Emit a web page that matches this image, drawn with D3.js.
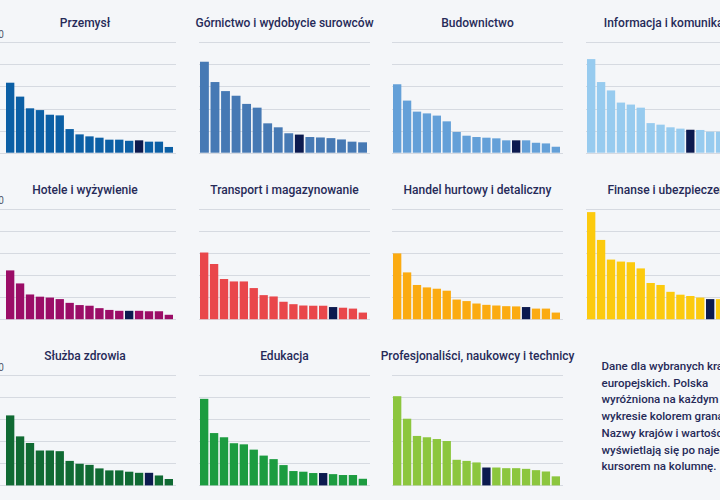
<!DOCTYPE html>
<html>
<head>
<meta charset="utf-8">
<script src="https://d3js.org/d3.v7.min.js"></script>
<style>
  html, body { margin: 0; padding: 0; background: #f4f6f9; overflow: hidden; }
  svg { display: block; }
  .title { font-family: Roboto, sans-serif; font-size: 12px; font-weight: 500; fill: #262a58; text-anchor: middle; }
  .tick-label { font-family: Roboto, sans-serif; font-size: 10px; fill: #555a6e; text-anchor: end; }
  .note { font-family: Roboto, sans-serif; font-size: 11.5px; font-weight: 500; fill: #262a58; }
  .grid line { stroke: #d6dae1; stroke-width: 1px; }
</style>
</head>
<body>
<div id="chart"></div>
<script>
  // sector names (panel titles), in reading order
  var sectors = [
    "Przemysł", "Górnictwo i wydobycie surowców", "Budownictwo", "Informacja i komunikacja",
    "Hotele i wyżywienie", "Transport i magazynowanie", "Handel hurtowy i detaliczny", "Finanse i ubezpieczenia",
    "Służba zdrowia", "Edukacja", "Profesjonaliści, naukowcy i technicy"
  ];

  // bar colour per sector
  var sectorColors = [
    "#0b5fa5", "#4679b4", "#64a0d8", "#97cbef",
    "#9b0d67", "#e9474b", "#fbab12", "#fcca0e",
    "#106a33", "#1c9c40", "#8cc63e"
  ];

  // values per sector (countries sorted descending)
  var przemysl      = [31.7, 25.4, 20.1, 19.3, 17.2, 16.9, 10.7, 8.3, 7.4, 6.8, 5.9, 5.9, 5.4, 5.6, 5.0, 5.0, 2.6];
  var gornictwo     = [41.2, 32.0, 27.9, 25.8, 22.1, 20.4, 13.3, 11.5, 8.8, 8.2, 7.1, 6.9, 6.6, 6.0, 5.0, 4.7];
  var budownictwo   = [31.0, 23.6, 18.6, 17.8, 16.8, 14.2, 9.4, 7.7, 7.1, 6.8, 6.5, 5.6, 5.6, 5.6, 4.5, 4.2, 2.7];
  var informacja    = [42.4, 32.0, 28.2, 22.7, 21.8, 20.4, 13.4, 12.7, 11.5, 10.9, 10.4, 10.3, 9.5, 9.5, 9.0, 8.0, 5.5];
  var hotele        = [22.1, 16.2, 11.2, 10.2, 9.8, 9.1, 7.4, 6.4, 6.1, 5.0, 4.2, 3.8, 3.8, 3.8, 3.6, 3.6, 2.0];
  var transport     = [30.2, 25.0, 18.2, 17.1, 17.1, 14.1, 10.9, 10.3, 7.9, 6.8, 6.2, 6.1, 6.1, 5.5, 5.2, 4.8, 3.0];
  var handel        = [29.8, 21.2, 15.5, 14.4, 13.8, 12.9, 8.9, 8.2, 7.1, 6.5, 6.2, 5.9, 5.8, 5.5, 4.8, 4.8, 3.0];
  var finanse       = [48.5, 35.9, 27.0, 26.1, 25.8, 23.0, 16.4, 15.5, 12.4, 11.1, 10.5, 9.8, 9.1, 9.1, 8.6, 8.2, 5.5];
  var zdrowie       = [31.7, 22.2, 19.2, 15.8, 15.8, 15.5, 11.1, 9.8, 9.3, 7.7, 6.8, 6.8, 6.2, 5.7, 5.7, 4.5, 2.9];
  var edukacja      = [39.2, 23.7, 21.8, 19.1, 18.6, 16.2, 13.5, 11.9, 9.2, 6.5, 6.2, 5.6, 5.6, 5.1, 4.7, 4.7, 3.0];
  var profesjonalisci = [40.4, 30.2, 22.4, 21.8, 21.0, 20.1, 11.6, 11.1, 10.4, 8.1, 8.1, 7.8, 7.8, 7.5, 6.9, 6.3, 4.1];

  var seriesValues = [przemysl, gornictwo, budownictwo, informacja, hotele, transport,
    handel, finanse, zdrowie, edukacja, profesjonalisci];

  // position of Poland in each sorted series
  var polandIndex = [13, 9, 12, 10, 12, 13, 13, 12, 14, 12, 9];

  var yTicks = [0, 10, 20, 30, 40, 50];
  var yTopLabel = "50";
  var highlightColor = "#0c1a4f";

  var noteLines = [
    "Dane dla wybranych krajów",
    "europejskich. Polska",
    "wyróżniona na każdym",
    "wykresie kolorem granatowym.",
    "Nazwy krajów i wartości",
    "wyświetlają się po najechaniu",
    "kursorem na kolumnę."
  ];

  var width = 720, height = 500;
  var colX = [5, 199, 392, 586];
  var panelW = 171;
  var rowBase = [152.7, 319.2, 485.4];
  var plotH = 110.4;

  var svg = d3.select("#chart")
    .append("svg")
    .attr("width", width)
    .attr("height", height);

  var y = d3.scaleLinear().domain([0, 50]);

  sectors.forEach(function (name, i) {
    var col = i % 4, row = Math.floor(i / 4);
    var base = rowBase[row];
    var x0 = colX[col];
    var gx0 = col === 0 ? x0 - 11 : x0;
    var gx1 = x0 + panelW;
    var vals = seriesValues[i];

    y.range([base, base - plotH]);

    var x = d3.scaleBand()
      .domain(d3.range(vals.length))
      .range([x0 + 1, x0 + 168])
      .paddingInner(0.16)
      .paddingOuter(0);

    var g = svg.append("g");

    // gridlines
    g.append("g")
      .attr("class", "grid")
      .selectAll("line")
      .data(yTicks)
      .join("line")
      .attr("x1", gx0 - (col === 0 ? 30 : 0))
      .attr("x2", gx1)
      .attr("y1", d => Math.round(y(d)) + 0.5)
      .attr("y2", d => Math.round(y(d)) + 0.5);

    // only the first column shows the top value
    if (col === 0) {
      g.append("text")
        .attr("class", "tick-label")
        .attr("x", 4)
        .attr("y", y(50) - 4.5)
        .text(yTopLabel);
    }

    g.append("text")
      .attr("class", "title")
      .attr("x", (gx0 + gx1) / 2)
      .attr("y", base - 125.5)
      .text(name);

    g.selectAll("rect")
      .data(vals)
      .join("rect")
      .attr("x", (d, j) => x(j))
      .attr("width", x.bandwidth())
      .attr("y", d => y(d))
      .attr("height", d => y(0) - y(d))
      .attr("fill", (d, j) => j === polandIndex[i] ? highlightColor : sectorColors[i]);
  });

  // explanatory note in the empty 12th cell
  svg.append("text")
    .attr("class", "note")
    .selectAll("tspan")
    .data(noteLines)
    .join("tspan")
    .attr("x", 601.5)
    .attr("y", (d, j) => 370 + j * 16.7)
    .text(d => d);
</script>
</body>
</html>
